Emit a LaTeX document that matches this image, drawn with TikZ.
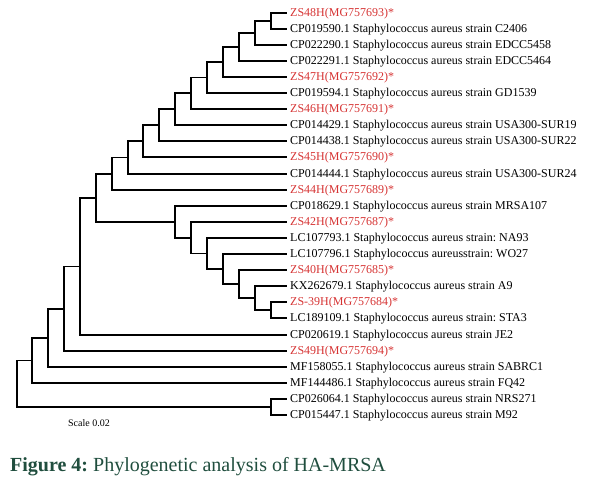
\documentclass[tikz,border=0pt]{standalone}
\usepackage{fontspec}
\setmainfont{Liberation Serif}
\frenchspacing
\definecolor{isolate}{RGB}{214,52,52}
\definecolor{capgreen}{RGB}{32,78,62}

\begin{document}
\begin{tikzpicture}[x=1pt, y=-1pt,
    branch/.style={line width=1.7pt, black},
    leaf/.style={anchor=west, inner xsep=3pt, inner ysep=0pt, text height=7.9pt, text depth=0pt,
                 font=\fontsize{12}{14}\selectfont},
    ours/.style={leaf, text=isolate}]
  \useasboundingbox (0,0) rectangle (604,482);

  % leaves
  \node[ours] (zs48)    at (287,13)  {ZS48H(MG757693)*};
  \node[leaf] (c2406)   at (287,29)  {CP019590.1 Staphylococcus aureus strain C2406};
  \node[leaf] (edcc58)  at (287,45)  {CP022290.1 Staphylococcus aureus strain EDCC5458};
  \node[leaf] (edcc64)  at (287,61)  {CP022291.1 Staphylococcus aureus strain EDCC5464};
  \node[ours] (zs47)    at (287,77)  {ZS47H(MG757692)*};
  \node[leaf] (gd1539)  at (287,93)  {CP019594.1 Staphylococcus aureus strain GD1539};
  \node[ours] (zs46)    at (287,109) {ZS46H(MG757691)*};
  \node[leaf] (sur19)   at (287,125) {CP014429.1 Staphylococcus aureus strain USA300-SUR19};
  \node[leaf] (sur22)   at (287,141) {CP014438.1 Staphylococcus aureus strain USA300-SUR22};
  \node[ours] (zs45)    at (287,157) {ZS45H(MG757690)*};
  \node[leaf] (sur24)   at (287,174) {CP014444.1 Staphylococcus aureus strain USA300-SUR24};
  \node[ours] (zs44)    at (287,190) {ZS44H(MG757689)*};
  \node[leaf] (mrsa107) at (287,206) {CP018629.1 Staphylococcus aureus strain MRSA107};
  \node[ours] (zs42)    at (287,222) {ZS42H(MG757687)*};
  \node[leaf] (na93)    at (287,238) {LC107793.1 Staphylococcus aureus strain: NA93};
  \node[leaf] (wo27)    at (287,254) {LC107796.1 Staphylococcus aureusstrain: WO27};
  \node[ours] (zs40)    at (287,270) {ZS40H(MG757685)*};
  \node[leaf] (a9)      at (287,286) {KX262679.1 Staphylococcus aureus strain A9};
  \node[ours] (zs39)    at (287,302) {ZS-39H(MG757684)*};
  \node[leaf] (sta3)    at (287,318) {LC189109.1 Staphylococcus aureus strain: STA3};
  \node[leaf] (je2)     at (287,335) {CP020619.1 Staphylococcus aureus strain JE2};
  \node[ours] (zs49)    at (287,351) {ZS49H(MG757694)*};
  \node[leaf] (sabrc1)  at (287,367) {MF158055.1 Staphylococcus aureus strain SABRC1};
  \node[leaf] (fq42)    at (287,383) {MF144486.1 Staphylococcus aureus strain FQ42};
  \node[leaf] (nrs271)  at (287,399) {CP026064.1 Staphylococcus aureus strain NRS271};
  \node[leaf] (m92)     at (287,415) {CP015447.1 Staphylococcus aureus strain M92};

  % inner nodes, upper clade
  \coordinate (t16) at (271,21);
  \coordinate (t15) at (255,33);
  \coordinate (t14) at (239,47);
  \coordinate (t13) at (223,62);
  \coordinate (t12) at (207,77.5);
  \coordinate (t11) at (191,93.25);
  \coordinate (t10) at (175,109.1);
  \coordinate (t9)  at (159,125.1);
  \coordinate (t8)  at (143,141.1);
  \coordinate (t7)  at (128,157.5);
  \coordinate (t6)  at (112,173.8);
  % inner nodes, MRSA107 clade
  \coordinate (b16) at (271,310);
  \coordinate (b15) at (255,298);
  \coordinate (b14) at (239,284);
  \coordinate (b13) at (223,269);
  \coordinate (b12) at (207,253.5);
  \coordinate (b11) at (191,237.8);
  \coordinate (b10) at (175,221.9);
  % backbone
  \coordinate (r5)  at (96,197.8);
  \coordinate (r4)  at (80,266.4);
  \coordinate (r3)  at (64,308.7);
  \coordinate (r2)  at (48,337.8);
  \coordinate (r1)  at (32,360.4);
  \coordinate (c16) at (271,407);
  \coordinate (r0)  at (17,383.7);

  \draw[branch] (t16) |- (zs48.west)  (t16) |- (c2406.west);
  \draw[branch] (t15) |- (t16)        (t15) |- (edcc58.west);
  \draw[branch] (t14) |- (t15)        (t14) |- (edcc64.west);
  \draw[branch] (t13) |- (t14)        (t13) |- (zs47.west);
  \draw[branch] (t12) |- (t13)        (t12) |- (gd1539.west);
  \draw[branch] (t11) |- (t12)        (t11) |- (zs46.west);
  \draw[branch] (t10) |- (t11)        (t10) |- (sur19.west);
  \draw[branch] (t9)  |- (t10)        (t9)  |- (sur22.west);
  \draw[branch] (t8)  |- (t9)         (t8)  |- (zs45.west);
  \draw[branch] (t7)  |- (t8)         (t7)  |- (sur24.west);
  \draw[branch] (t6)  |- (t7)         (t6)  |- (zs44.west);

  \draw[branch] (b16) |- (zs39.west)  (b16) |- (sta3.west);
  \draw[branch] (b15) |- (a9.west)    (b15) |- (b16);
  \draw[branch] (b14) |- (zs40.west)  (b14) |- (b15);
  \draw[branch] (b13) |- (wo27.west)  (b13) |- (b14);
  \draw[branch] (b12) |- (na93.west)  (b12) |- (b13);
  \draw[branch] (b11) |- (zs42.west)  (b11) |- (b12);
  \draw[branch] (b10) |- (mrsa107.west) (b10) |- (b11);

  \draw[branch] (r5) |- (t6)   (r5) |- (b10);
  \draw[branch] (r4) |- (r5)   (r4) |- (je2.west);
  \draw[branch] (r3) |- (r4)   (r3) |- (zs49.west);
  \draw[branch] (r2) |- (r3)   (r2) |- (sabrc1.west);
  \draw[branch] (r1) |- (r2)   (r1) |- (fq42.west);
  \draw[branch] (c16) |- (nrs271.west) (c16) |- (m92.west);
  \draw[branch] (r0) |- (r1)   (r0) |- (c16);

  \node[font=\fontsize{10}{12}\selectfont] (scale) at (89,423.5) {Scale 0.02};

  \node[anchor=base west, inner sep=0pt, text=capgreen, font=\fontsize{20}{24}\selectfont]
    (caption) at (10,471) {\textbf{Figure 4:} Phylogenetic analysis of HA-MRSA};
\end{tikzpicture}
\end{document}
